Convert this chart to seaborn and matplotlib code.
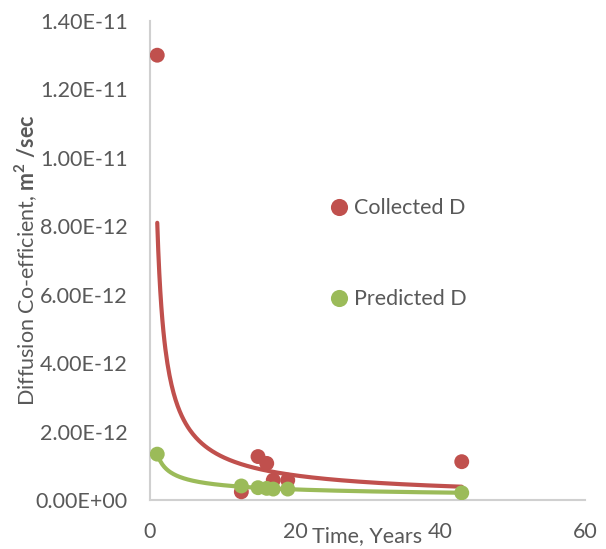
import numpy as np
import pandas as pd
import matplotlib
matplotlib.use("Agg")
import matplotlib.pyplot as plt
import seaborn as sns

# Measured and predicted diffusion coefficients over time
years = [1, 12.6, 14.9, 16.1, 17.0, 19.0, 43]
collected_d = [13.0e-12, 0.24e-12, 1.27e-12, 1.07e-12, 0.58e-12, 0.58e-12, 1.12e-12]
predicted_d = [1.34e-12, 0.41e-12, 0.36e-12, 0.34e-12, 0.32e-12, 0.32e-12, 0.21e-12]

x_ticks = [0, 20, 40, 60]
y_ticks = [0, 2e-12, 4e-12, 6e-12, 8e-12, 10e-12, 12e-12, 14e-12]
y_tick_labels = ["0.00E+00", "2.00E-12", "4.00E-12", "6.00E-12",
                 "8.00E-12", "1.00E-11", "1.20E-11", "1.40E-11"]

RED = "#C0504D"
GREEN = "#9BBB59"
TEXT = "#595959"
AXIS = "#D0D0D0"

sns.set_theme(style="white")
plt.rcParams["font.family"] = ["Lato", "DejaVu Sans"]
plt.rcParams["mathtext.fontset"] = "custom"
plt.rcParams["mathtext.rm"] = "Lato"
plt.rcParams["mathtext.bf"] = "Lato:bold"
FS = 15.5

df = pd.DataFrame({
    "Time": years * 2,
    "D": collected_d + predicted_d,
    "Series": ["Collected D"] * len(years) + ["Predicted D"] * len(years),
})

fig = plt.figure(figsize=(6.06, 5.49), dpi=100)
ax = fig.add_axes([150 / 606, 49 / 549, 435 / 606, 479 / 549])


def power_trend(x, y):
    # least-squares fit of y = a * x**b in log space
    b, ln_a = np.polyfit(np.log(x), np.log(y), 1)
    xs = np.linspace(min(x), max(x), 300)
    return xs, np.exp(ln_a) * xs ** b


for vals, color in [(collected_d, RED), (predicted_d, GREEN)]:
    xs, ys = power_trend(np.array(years), np.array(vals))
    sns.lineplot(x=xs, y=ys, ax=ax, color=color, lw=3.0, zorder=2,
                 legend=False, solid_capstyle="round")

sns.scatterplot(data=df, x="Time", y="D", hue="Series",
                palette={"Collected D": RED, "Predicted D": GREEN},
                s=115, edgecolor="none", ax=ax, zorder=3)

ax.set_xlim(0, 60)
ax.set_ylim(0, 14e-12)
ax.set_xticks(x_ticks)
ax.set_xticklabels([str(t) for t in x_ticks])
ax.set_yticks(y_ticks)
ax.set_yticklabels(y_tick_labels)
ax.tick_params(axis="both", length=0, labelsize=FS, labelcolor=TEXT)
ax.tick_params(axis="y", pad=16)
ax.tick_params(axis="x", pad=15.5)

for side in ["top", "right"]:
    ax.spines[side].set_visible(False)
for side in ["left", "bottom"]:
    ax.spines[side].set_color(AXIS)
    ax.spines[side].set_linewidth(1.5)

ax.set_xlabel("Time, Years", fontsize=FS, color=TEXT)
ax.xaxis.label.set_va("center")
ax.xaxis.set_label_coords(0.5, -0.075)

ax.set_ylabel(r"Diffusion Co-efficient, $\mathbf{m^2}$ $\mathbf{/sec}$",
              fontsize=FS, color=TEXT)
ax.yaxis.label.set_va("center")
ax.yaxis.set_label_coords(-0.285, 0.5)

leg = ax.legend(loc="upper left", bbox_to_anchor=(0.392, 0.652),
                frameon=False, fontsize=FS, labelcolor=TEXT,
                handlelength=0.7, handletextpad=0.35, borderpad=0,
                labelspacing=3.3, markerscale=1.15)

fig.savefig("out.png", dpi=100)
